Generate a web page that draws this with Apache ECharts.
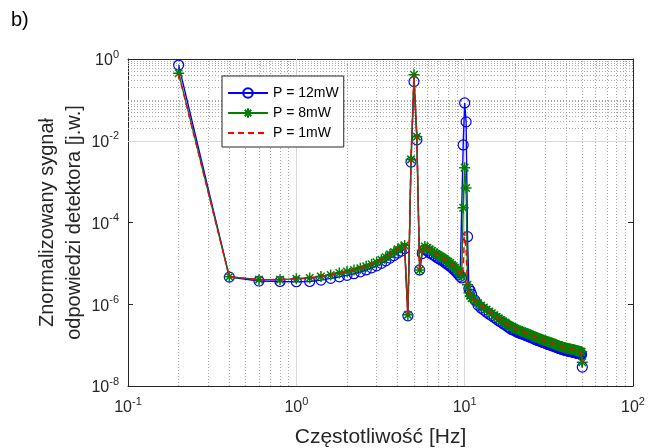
<!DOCTYPE html>
<html><head><meta charset="utf-8">
<script src="https://cdn.jsdelivr.net/npm/echarts@6/dist/echarts.min.js"></script>
<style>html,body{margin:0;padding:0;background:#fff}#c{width:659px;height:448px}</style>
</head><body><div id="c"></div>
<script>
// Frequencies [Hz]
const freq = [0.2,0.4,0.6,0.8,1.0,1.2,1.4,1.6,1.8,2.0,2.2,2.4,2.6,2.8,3.0,3.2,3.4,3.6,3.8,4.0,4.2,4.4,
  4.6,4.8,5.0,5.2,5.4,
  5.6,5.8,6.0,6.2,6.4,6.6,6.8,7.0,7.2,7.4,7.6,7.8,8.0,8.2,8.4,8.6,8.8,9.0,9.2,9.4,9.6,
  9.8,10.0,10.2,10.4,10.6,10.8,11.0,
  11.5,12,12.5,13,13.5,14,14.5,15,15.5,16,16.5,17,17.5,18,18.5,19,19.5,20,
  20.5,21,21.5,22,22.5,23,23.5,24,24.5,25,25.5,26,26.5,27,27.5,28,28.5,29,29.5,30,
  30.5,31,31.5,32,32.5,33,33.5,34,34.5,35,35.5,36,36.5,37,37.5,38,38.5,39,39.5,40,
  40.5,41,41.5,42,42.5,43,43.5,44,44.5,45,45.5,46,46.5,47,47.5,48,48.5,49,49.5,50];
// P = 12mW
const p12 = [0.71,4.6e-6,3.7e-6,3.6e-6,3.55e-6,3.6e-6,3.9e-6,4.3e-6,4.7e-6,5.1e-6,5.6e-6,6.2e-6,6.9e-6,7.8e-6,8.7e-6,1.0e-5,1.15e-5,1.35e-5,1.55e-5,1.78e-5,2.0e-5,2.3e-5,
  5.2e-7,3.0e-3,0.28,1.05e-2,6.9e-6,
  1.74e-5,2.2e-5,2.0e-5,1.8e-5,1.66e-5,1.55e-5,1.41e-5,1.32e-5,1.23e-5,1.15e-5,1.07e-5,9.8e-6,9.1e-6,8.5e-6,7.8e-6,7.1e-6,6.5e-6,5.9e-6,5.3e-6,4.8e-6,4.4e-6,
  7.9e-3,8.4e-2,2.9e-2,4.5e-5,2.4e-6,2.1e-6,1.74e-6,
  1.26e-6,9.5e-7,8.1e-7,7.2e-7,6.4e-7,5.7e-7,5.2e-7,4.7e-7,4.3e-7,3.9e-7,3.6e-7,3.3e-7,3.1e-7,2.8e-7,2.6e-7,2.4e-7,2.35e-7,2.2e-7,
  2.1e-7,2.0e-7,1.93e-7,1.86e-7,1.8e-7,1.74e-7,1.68e-7,1.62e-7,1.56e-7,1.51e-7,1.46e-7,1.41e-7,1.36e-7,1.31e-7,1.28e-7,1.25e-7,1.21e-7,1.17e-7,1.15e-7,1.12e-7,
  1.09e-7,1.07e-7,1.04e-7,1.02e-7,9.9e-8,9.7e-8,9.5e-8,9.3e-8,9.1e-8,8.9e-8,8.7e-8,8.5e-8,8.3e-8,8.1e-8,8.0e-8,7.9e-8,7.7e-8,7.6e-8,7.5e-8,7.4e-8,
  7.3e-8,7.2e-8,7.1e-8,7.0e-8,6.95e-8,6.9e-8,6.85e-8,6.8e-8,6.7e-8,6.6e-8,6.5e-8,6.4e-8,6.35e-8,6.3e-8,6.25e-8,6.2e-8,6.1e-8,6.0e-8,5.9e-8,2.9e-8];
// P = 8mW
const p8 = [0.45,4.7e-6,4.0e-6,4.0e-6,4.2e-6,4.4e-6,4.8e-6,5.2e-6,5.8e-6,6.3e-6,6.9e-6,7.6e-6,8.5e-6,9.5e-6,1.07e-5,1.23e-5,1.41e-5,1.66e-5,1.9e-5,2.2e-5,2.5e-5,2.75e-5,
  5.5e-7,3.5e-3,0.41,1.26e-2,6.9e-6,
  2.1e-5,2.6e-5,2.4e-5,2.2e-5,2.0e-5,1.86e-5,1.7e-5,1.58e-5,1.48e-5,1.38e-5,1.29e-5,1.17e-5,1.1e-5,1.02e-5,9.3e-6,8.5e-6,7.8e-6,7.1e-6,6.3e-6,5.6e-6,4.9e-6,
  2.3e-4,2.2e-3,7.0e-4,3.0e-6,1.9e-6,1.6e-6,1.41e-6,
  1.23e-6,1.07e-6,9.3e-7,8.3e-7,7.4e-7,6.6e-7,6.0e-7,5.4e-7,4.9e-7,4.5e-7,4.1e-7,3.8e-7,3.55e-7,3.2e-7,3.0e-7,2.8e-7,2.7e-7,2.5e-7,
  2.4e-7,2.3e-7,2.22e-7,2.14e-7,2.07e-7,2.0e-7,1.93e-7,1.86e-7,1.8e-7,1.74e-7,1.68e-7,1.62e-7,1.56e-7,1.51e-7,1.48e-7,1.44e-7,1.4e-7,1.35e-7,1.32e-7,1.29e-7,
  1.26e-7,1.23e-7,1.2e-7,1.17e-7,1.14e-7,1.12e-7,1.1e-7,1.07e-7,1.05e-7,1.02e-7,1.0e-7,9.8e-8,9.5e-8,9.3e-8,9.2e-8,9.1e-8,8.9e-8,8.7e-8,8.6e-8,8.5e-8,
  8.4e-8,8.3e-8,8.2e-8,8.1e-8,8.0e-8,7.9e-8,7.85e-8,7.8e-8,7.7e-8,7.6e-8,7.5e-8,7.4e-8,7.3e-8,7.2e-8,7.15e-8,7.1e-8,7.0e-8,6.9e-8,6.85e-8,3.8e-8];
// P = 1mW
const p1 = [0.43,4.7e-6,4.0e-6,4.0e-6,4.2e-6,4.4e-6,4.8e-6,5.3e-6,5.8e-6,6.3e-6,6.9e-6,7.6e-6,8.5e-6,9.6e-6,1.08e-5,1.23e-5,1.42e-5,1.66e-5,1.9e-5,2.2e-5,2.5e-5,2.7e-5,
  5.5e-7,3.5e-3,0.40,1.25e-2,6.9e-6,
  2.1e-5,2.6e-5,2.4e-5,2.2e-5,2.0e-5,1.86e-5,1.7e-5,1.58e-5,1.48e-5,1.38e-5,1.29e-5,1.18e-5,1.1e-5,1.02e-5,9.3e-6,8.5e-6,7.8e-6,7.1e-6,6.3e-6,5.6e-6,4.9e-6,
  8.0e-6,6.0e-5,2.0e-5,2.6e-6,1.9e-6,1.6e-6,1.41e-6,
  1.23e-6,1.07e-6,9.4e-7,8.3e-7,7.4e-7,6.6e-7,6.0e-7,5.4e-7,4.9e-7,4.5e-7,4.1e-7,3.8e-7,3.55e-7,3.2e-7,3.0e-7,2.8e-7,2.7e-7,2.5e-7,
  2.4e-7,2.3e-7,2.22e-7,2.14e-7,2.07e-7,2.0e-7,1.93e-7,1.86e-7,1.8e-7,1.74e-7,1.68e-7,1.62e-7,1.56e-7,1.51e-7,1.48e-7,1.44e-7,1.4e-7,1.35e-7,1.32e-7,1.29e-7,
  1.26e-7,1.23e-7,1.2e-7,1.17e-7,1.14e-7,1.12e-7,1.1e-7,1.07e-7,1.05e-7,1.02e-7,1.0e-7,9.8e-8,9.5e-8,9.3e-8,9.2e-8,9.1e-8,8.9e-8,8.7e-8,8.6e-8,8.5e-8,
  8.4e-8,8.3e-8,8.2e-8,8.1e-8,8.0e-8,7.9e-8,7.85e-8,7.8e-8,7.7e-8,7.6e-8,7.5e-8,7.4e-8,7.3e-8,7.2e-8,7.15e-8,7.1e-8,7.0e-8,6.9e-8,6.85e-8,3.8e-8];

const seriesNames = ['P = 12mW', 'P = 8mW', 'P = 1mW'];
const xTickLabels = ['10^-1', '10^0', '10^1', '10^2'];
const yTickLabels = ['10^-8', '10^-6', '10^-4', '10^-2', '10^0'];
const xTitle = 'Częstotliwość [Hz]';
const yTitle = 'Znormalizowany sygnał\nodpowiedzi detektora [j.w.]';
const panelLabel = 'b)';

const FONT = 'Liberation Sans, Arial, Helvetica, sans-serif';
const TXT = '#262626';

// grid lines (axis decoration)
const xMajor = [1, 10];
const xMinor = [];
for (let k = -1; k <= 1; k++) for (let m = 2; m <= 9; m++) xMinor.push(+(m * Math.pow(10, k)).toPrecision(3));
const yMajor = [1e-6, 1e-4, 1e-2];
const yMinor = [1e-7, 1e-5, 1e-3, 1e-1];
for (let k = -8; k <= -1; k++) for (let m = 2; m <= 9; m++) yMinor.push(+(m * Math.pow(10, k)).toPrecision(3));

const majorStyle = {color: '#d9d9d9', width: 1, type: 'solid'};
const minorStyle = {color: '#a8a8a8', width: 1, type: [1, 2]};
const gridLines = []
  .concat(xMinor.map(v => ({xAxis: v, lineStyle: minorStyle})))
  .concat(yMinor.map(v => ({yAxis: v, lineStyle: minorStyle})))
  .concat(xMajor.map(v => ({xAxis: v, lineStyle: majorStyle})))
  .concat(yMajor.map(v => ({yAxis: v, lineStyle: majorStyle})));

function labelFor(list, v) {
  const e = Math.round(Math.log10(v));
  const s = list.find(t => t === '10^' + e);
  if (!s) return '';
  return '{b|10}{s|' + e + '}';
}
const rich = {
  b: {fontSize: 16, fontFamily: FONT, color: TXT, verticalAlign: 'bottom', lineHeight: 20},
  s: {fontSize: 11, fontFamily: FONT, color: TXT, verticalAlign: 'top', lineHeight: 20}
};

const asterisk = 'path://M5,0L5,10M0,5L10,5M1.6,1.6L8.4,8.4M1.6,8.4L8.4,1.6';

const chart = echarts.init(document.getElementById('c'), null, {renderer: 'canvas'});
chart.setOption({
  animation: false,
  backgroundColor: '#fff',
  textStyle: {fontFamily: FONT},
  grid: {left: 128, right: 26, top: 59, bottom: 62, show: false, containLabel: false, outerBoundsMode: 'none'},
  graphic: [{type: 'text', left: 11, top: 10, style: {text: panelLabel, fontSize: 20, fontFamily: FONT, fill: '#000'}}],
  legend: {
    data: [
      {name: seriesNames[0]},
      {name: seriesNames[1]},
      {name: seriesNames[2], itemStyle: {opacity: 0}}
    ],
    orient: 'vertical', left: 222, top: 76,
    padding: [10, 5, 7, 5], itemGap: 6, itemWidth: 40, itemHeight: 12,
    backgroundColor: '#fff', borderColor: '#262626', borderWidth: 1, borderRadius: 0,
    selectedMode: false,
    textStyle: {fontSize: 14, color: '#000', fontFamily: FONT}
  },
  xAxis: [{
    type: 'log', logBase: 10, min: 0.1, max: 100, position: 'bottom',
    axisLine: {show: true, lineStyle: {color: TXT, width: 1}},
    axisTick: {show: true, inside: true, length: 5, lineStyle: {color: TXT}},
    axisLabel: {margin: 10, formatter: v => labelFor(xTickLabels, v), rich: rich},
    splitLine: {show: false},
    name: xTitle, nameLocation: 'middle', nameGap: 41, nameMoveOverlap: false,
    nameTextStyle: {fontSize: 21, color: TXT, fontFamily: FONT}
  }, {
    type: 'log', logBase: 10, min: 0.1, max: 100, position: 'top',
    axisLine: {show: true, lineStyle: {color: TXT, width: 1}},
    axisTick: {show: true, inside: true, length: 5, lineStyle: {color: TXT}},
    axisLabel: {show: false}, splitLine: {show: false}
  }],
  yAxis: [{
    type: 'log', logBase: 10, min: 1e-8, max: 1, interval: 2, position: 'left',
    axisLine: {show: true, lineStyle: {color: TXT, width: 1}},
    axisTick: {show: true, inside: true, length: 5, lineStyle: {color: TXT}},
    axisLabel: {margin: 9, formatter: v => labelFor(yTickLabels, v), rich: rich},
    splitLine: {show: false},
    name: yTitle, nameLocation: 'middle', nameGap: 40, nameRotate: 90, nameMoveOverlap: false,
    nameTextStyle: {fontSize: 20, lineHeight: 27, color: TXT, fontFamily: FONT, align: 'center'}
  }, {
    type: 'log', logBase: 10, min: 1e-8, max: 1, interval: 2, position: 'right',
    axisLine: {show: true, lineStyle: {color: TXT, width: 1}},
    axisTick: {show: true, inside: true, length: 5, lineStyle: {color: TXT}},
    axisLabel: {show: false}, splitLine: {show: false}
  }],
  series: [{
    name: seriesNames[0], type: 'line', xAxisIndex: 0, yAxisIndex: 0, z: 2,
    data: freq.map((f, i) => [f, p12[i]]),
    symbol: 'circle', symbolSize: 10, showAllSymbol: true,
    lineStyle: {color: '#0000ff', width: 1.4},
    itemStyle: {color: 'rgba(255,255,255,0)', borderColor: '#0000ff', borderWidth: 1.2},
    emphasis: {disabled: true},
    markLine: {silent: true, z: 1, symbol: ['none', 'none'], label: {show: false}, animation: false,
      emphasis: {disabled: true}, data: gridLines}
  }, {
    name: seriesNames[1], type: 'line', xAxisIndex: 0, yAxisIndex: 0, z: 3,
    data: freq.map((f, i) => [f, p8[i]]),
    symbol: asterisk, symbolSize: 11, showAllSymbol: true,
    lineStyle: {color: '#008000', width: 1.4},
    itemStyle: {color: '#008000', borderColor: '#008000', borderWidth: 1.5},
    emphasis: {disabled: true}
  }, {
    name: seriesNames[2], type: 'line', xAxisIndex: 0, yAxisIndex: 0, z: 4,
    data: freq.map((f, i) => [f, p1[i]]),
    symbol: 'none', showSymbol: false,
    lineStyle: {color: '#ff0000', width: 1.5, type: [6, 4]},
    itemStyle: {color: '#ff0000'},
    emphasis: {disabled: true}
  }]
});
</script>
</body></html>
